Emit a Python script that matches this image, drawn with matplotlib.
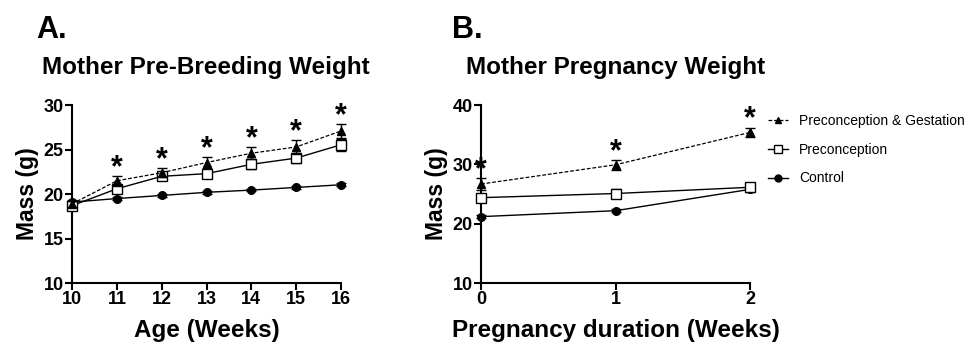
import numpy as np
import matplotlib.pyplot as plt
from matplotlib.lines import Line2D

plt.rcParams['font.family'] = ['Liberation Sans', 'DejaVu Sans']

# Panel A: mother pre-breeding weight
age = [10, 11, 12, 13, 14, 15, 16]
ctrl_a = [19.1, 19.5, 19.85, 20.2, 20.45, 20.75, 21.05]
ctrl_a_err = [0.2, 0.15, 0.15, 0.15, 0.15, 0.15, 0.15]
pre_a = [18.7, 20.6, 22.0, 22.3, 23.35, 24.05, 25.55]
pre_a_err = [0.3, 0.35, 0.35, 0.45, 0.55, 0.55, 0.65]
pg_a = [18.9, 21.5, 22.4, 23.55, 24.6, 25.3, 27.1]
pg_a_err = [0.3, 0.55, 0.5, 0.6, 0.7, 0.8, 0.8]
star_a_x = [11, 12, 13, 14, 15, 16]

# Panel B: mother pregnancy weight
weeks = [0, 1, 2]
ctrl_b = [21.2, 22.2, 25.8]
ctrl_b_err = [0.3, 0.3, 0.4]
pre_b = [24.4, 25.1, 26.15]
pre_b_err = [0.7, 0.8, 0.5]
pg_b = [26.7, 29.95, 35.4]
pg_b_err = [1.0, 0.8, 0.8]
star_b_x = [0, 1, 2]

fig = plt.figure(figsize=(9.71, 3.46), dpi=100)
axA = fig.add_axes([0.0742, 0.182, 0.277, 0.514])
axB = fig.add_axes([0.4954, 0.182, 0.277, 0.514])

pg_style = dict(color='black', lw=0.9, ls=(0, (3, 1.5)), marker='^', ms=5.5)
pre_style = dict(color='black', lw=1, marker='s', ms=7, mfc='white', mec='black', mew=1)
ctrl_style = dict(color='black', lw=1, marker='o', ms=5.5)

def draw_series(ax, x, pg, pg_err, pre, pre_err, ctrl, ctrl_err):
    eb = dict(capsize=3.5, elinewidth=1, capthick=1, clip_on=False)
    ax.errorbar(x, ctrl, yerr=ctrl_err, zorder=3, **ctrl_style, **eb)
    ax.errorbar(x, pre, yerr=pre_err, zorder=4, **pre_style, **eb)
    ax.errorbar(x, pg, yerr=pg_err, zorder=5, **pg_style, **eb)

def stars(ax, xall, xs, means, errs):
    for xi in xs:
        i = xall.index(xi)
        ax.annotate('*', xy=(xi, means[i] + errs[i]), xytext=(0, -5),
                    textcoords='offset points', ha='center', va='bottom',
                    fontsize=22, fontweight='bold', annotation_clip=False)

def style(ax):
    for s in ['top', 'right']:
        ax.spines[s].set_visible(False)
    for s in ['left', 'bottom']:
        ax.spines[s].set_linewidth(1.5)
    ax.tick_params(width=1.5, length=5, labelsize=13, pad=1)
    for lab in ax.get_xticklabels() + ax.get_yticklabels():
        lab.set_fontweight('bold')

draw_series(axA, age, pg_a, pg_a_err, pre_a, pre_a_err, ctrl_a, ctrl_a_err)
stars(axA, age, star_a_x, pg_a, pg_a_err)
axA.set_xlim(10, 16)
axA.set_ylim(10, 30)
axA.set_xticks(age)
axA.set_yticks([10, 15, 20, 25, 30])
style(axA)
axA.set_xlabel('Age (Weeks)', fontsize=17.5, fontweight='bold', labelpad=8)
axA.set_ylabel('Mass (g)', fontsize=16.5, fontweight='bold', labelpad=3)

draw_series(axB, weeks, pg_b, pg_b_err, pre_b, pre_b_err, ctrl_b, ctrl_b_err)
stars(axB, weeks, star_b_x, pg_b, pg_b_err)
axB.set_xlim(0, 2)
axB.set_ylim(10, 40)
axB.set_xticks(weeks)
axB.set_yticks([10, 20, 30, 40])
style(axB)
axB.set_xlabel('Pregnancy duration (Weeks)', fontsize=17.5, fontweight='bold', labelpad=8)
axB.set_ylabel('Mass (g)', fontsize=16.5, fontweight='bold', labelpad=3)

handles = [Line2D([], [], **dict(pg_style, ms=4.5)),
           Line2D([], [], **dict(pre_style, ms=6)),
           Line2D([], [], **dict(ctrl_style, ms=5))]
labels = ['Preconception & Gestation', 'Preconception', 'Control']
axB.legend(handles, labels, loc='upper left', bbox_to_anchor=(1.045, 0.98),
           frameon=False, fontsize=10, handlelength=1.45, handletextpad=0.8,
           labelspacing=1.05, borderaxespad=0)

fig.text(0.037, 0.89, 'A.', fontsize=22, fontweight='bold')
fig.text(0.043, 0.785, 'Mother Pre-Breeding Weight', fontsize=17.5, fontweight='bold')
fig.text(0.466, 0.89, 'B.', fontsize=22, fontweight='bold')
fig.text(0.48, 0.785, 'Mother Pregnancy Weight', fontsize=17.5, fontweight='bold')

fig.savefig('out.png', dpi=100)
